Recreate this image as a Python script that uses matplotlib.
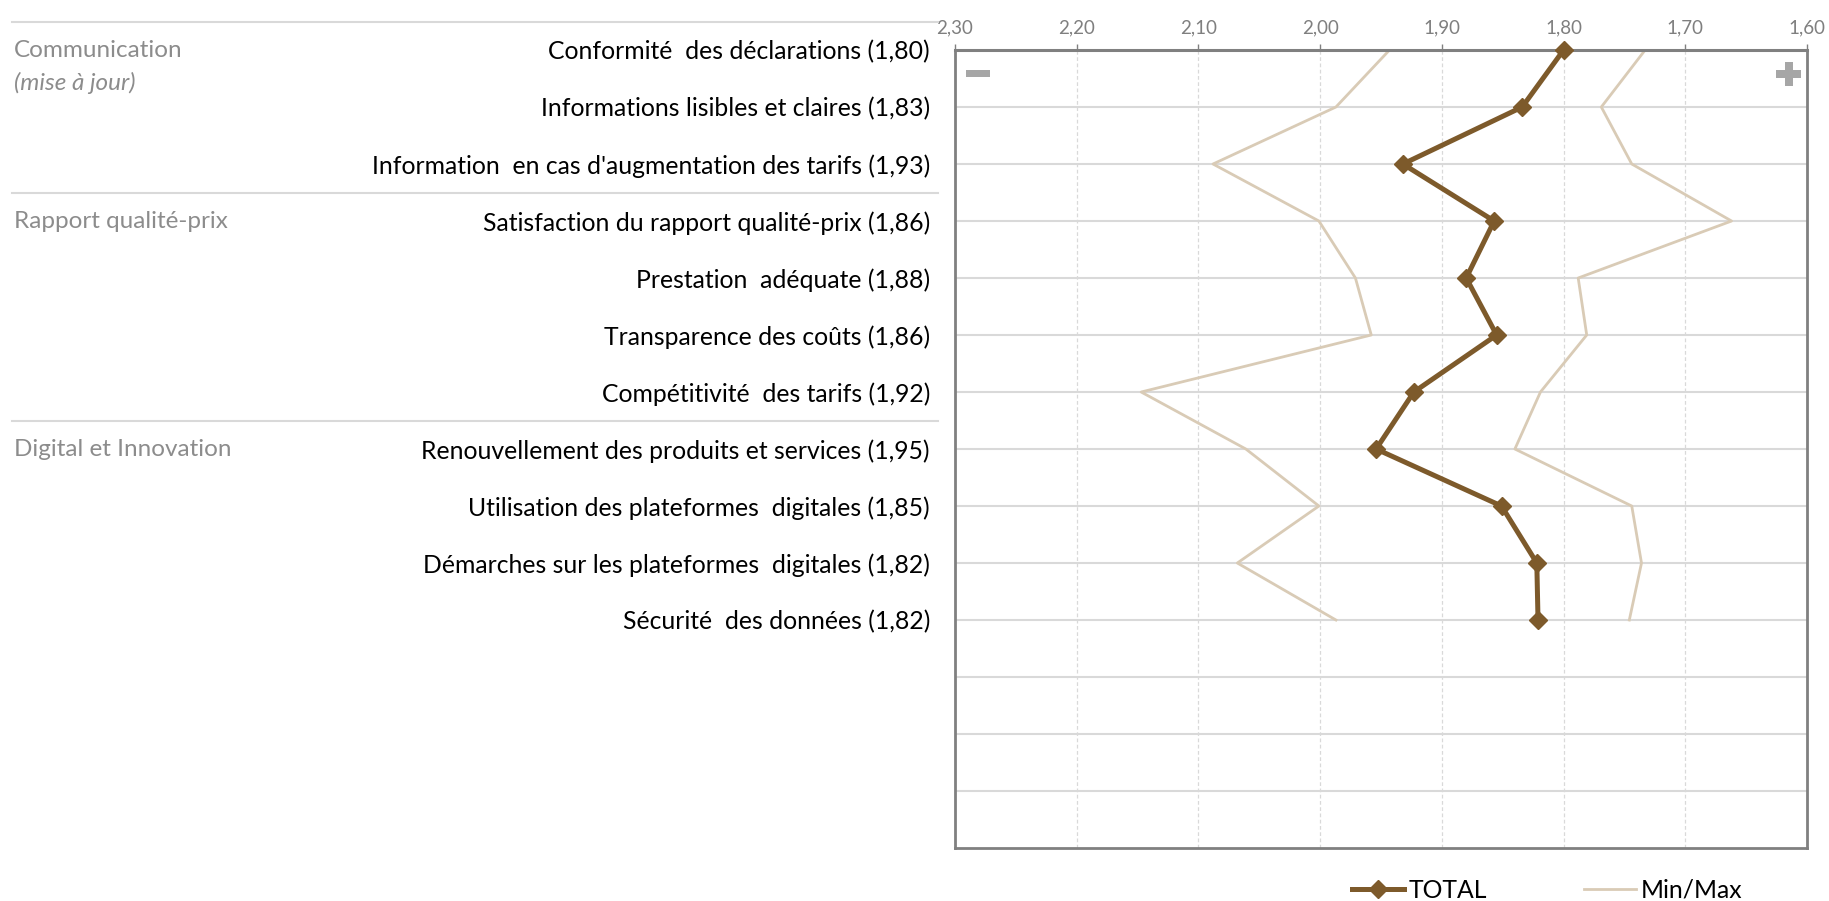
import matplotlib.pyplot as plt
from matplotlib.patches import Rectangle
from matplotlib.transforms import blended_transform_factory

plt.rcParams['font.family'] = ['Lato', 'DejaVu Sans']

categories = [
    "Conformité  des déclarations (1,80)",
    "Informations lisibles et claires (1,83)",
    "Information  en cas d'augmentation des tarifs (1,93)",
    "Satisfaction du rapport qualité-prix (1,86)",
    "Prestation  adéquate (1,88)",
    "Transparence des coûts (1,86)",
    "Compétitivité  des tarifs (1,92)",
    "Renouvellement des produits et services (1,95)",
    "Utilisation des plateformes  digitales (1,85)",
    "Démarches sur les plateformes  digitales (1,82)",
    "Sécurité  des données (1,82)",
]
total = [1.800, 1.834, 1.932, 1.857, 1.880, 1.855, 1.923, 1.954, 1.851, 1.822, 1.821]
min_vals = [1.943, 1.987, 2.088, 2.001, 1.971, 1.958, 2.147, 2.061, 2.001, 2.068, 1.987]
max_vals = [1.733, 1.769, 1.744, 1.662, 1.788, 1.781, 1.819, 1.840, 1.744, 1.736, 1.746]

groups = ["Communication", "Rapport qualité-prix", "Digital et Innovation"]
group_start = [0, 3, 7]
n_rows = 14  # 11 items + empty rows at the bottom

x_ticks = [2.30, 2.20, 2.10, 2.00, 1.90, 1.80, 1.70, 1.60]

brown = '#7d5a2b'
beige = '#d9cbb6'
grid = '#d9d9d9'
border = '#808080'
fs = 17.8

fig = plt.figure(figsize=(18.29, 9.01), dpi=100)
ax = fig.add_axes([0.5221, 0.0588, 0.4659, 0.8857])

rows = list(range(len(categories)))
h_min, = ax.plot(min_vals, rows, color=beige, lw=2.0, label='Min/Max', zorder=2)
ax.plot(max_vals, rows, color=beige, lw=2.0, zorder=2)
h_tot, = ax.plot(total, rows, color=brown, lw=3.6, marker='D', ms=9, mec=brown,
                 label='TOTAL', zorder=5, clip_on=False)

ax.set_xlim(2.30, 1.60)
ax.set_ylim(n_rows, 0)

# horizontal gridlines
for r in range(0, n_rows):
    ax.axhline(r, color=grid, lw=1.5, zorder=1)
# vertical dashed gridlines
for t in x_ticks[1:-1]:
    ax.axvline(t, color=grid, lw=0.9, ls=(0, (3, 2)), zorder=1)

ax.xaxis.tick_top()
ax.set_xticks(x_ticks)
ax.set_xticklabels([f"{t:.2f}".replace('.', ',') for t in x_ticks])
ax.tick_params(axis='x', colors=border, labelcolor='#7f7f7f', labelsize=13.5,
               length=4.5, width=1, pad=5)

ax.set_yticks(rows)
ax.set_yticklabels(categories, fontsize=fs, color='black')
ax.tick_params(axis='y', length=0, pad=18)

for side in ['left', 'right', 'bottom']:
    ax.spines[side].set_color(border)
    ax.spines[side].set_linewidth(2)
ax.spines['top'].set_color(border)
ax.spines['top'].set_linewidth(2.2)

# minus / plus signs
ax.add_patch(Rectangle((0.0129, 0.966), 0.0282, 0.0088, transform=ax.transAxes,
                       color='#a6a6a6', lw=0, clip_on=False))
ax.add_patch(Rectangle((0.9636, 0.9649), 0.0293, 0.0100, transform=ax.transAxes,
                       color='#a6a6a6', lw=0, clip_on=False))
ax.add_patch(Rectangle((0.9736, 0.9549), 0.0094, 0.0301, transform=ax.transAxes,
                       color='#a6a6a6', lw=0, clip_on=False))

# group labels and separators on the left
tr = blended_transform_factory(fig.transFigure, ax.transData)
for name, r in zip(groups, group_start):
    ax.text(0.0077, r, name, transform=tr, fontsize=17.5, color='#8c8c8c',
            va='center', ha='left')
    ax.plot([0.0066, 0.513], [r - 0.5, r - 0.5], transform=tr, color=grid,
            lw=1.5, clip_on=False)
ax.text(0.0077, 0.57, "(mise à jour)", transform=tr, fontsize=17.5,
        color='#8c8c8c', style='italic', va='center', ha='left')

fig.legend(handles=[h_tot, h_min], labels=['TOTAL', 'Min/Max'],
           loc='center left', bbox_to_anchor=(0.7392, 0.0122), ncol=2,
           frameon=False, fontsize=fs, handlelength=2.1, handletextpad=0.2,
           columnspacing=3.9, borderpad=0, borderaxespad=0)

fig.savefig('out.png', dpi=100)
